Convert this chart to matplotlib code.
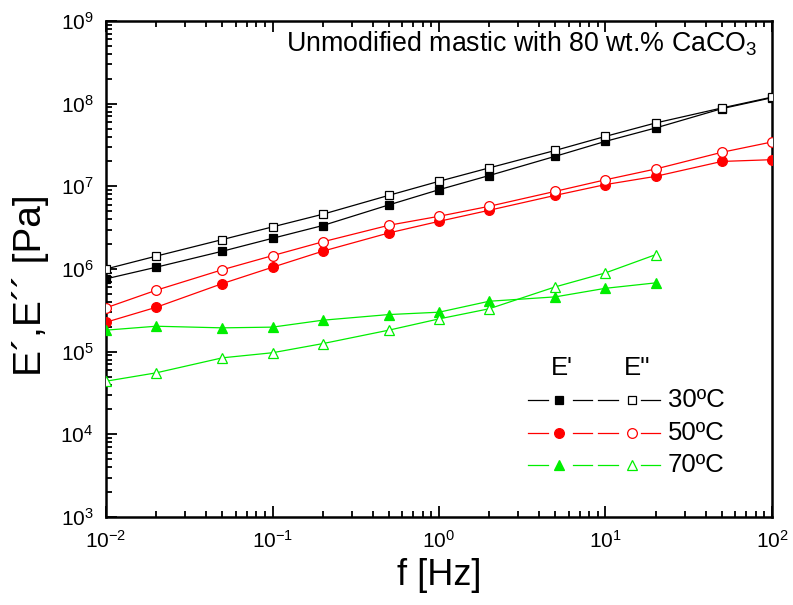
import math
import matplotlib
matplotlib.use("Agg")
import matplotlib.pyplot as plt
from matplotlib.ticker import LogLocator, FuncFormatter, NullFormatter

plt.rcParams['font.family'] = ['Liberation Sans', 'DejaVu Sans']
plt.rcParams['mathtext.fontset'] = 'custom'
plt.rcParams['mathtext.rm'] = 'Liberation Sans'
plt.rcParams['mathtext.it'] = 'Liberation Sans:italic'
plt.rcParams['mathtext.bf'] = 'Liberation Sans:bold'

# Frequency sweep [Hz]
freq = [0.01, 0.02, 0.05, 0.1, 0.2, 0.5, 1, 2, 5, 10, 20, 50, 100]
freq_70 = [0.01, 0.02, 0.05, 0.1, 0.2, 0.5, 1, 2, 5, 10, 20]

# Storage modulus E' [Pa]
e1_30 = [7.6e5, 1.05e6, 1.64e6, 2.35e6, 3.35e6, 5.96e6, 9.1e6, 1.35e7, 2.31e7, 3.5e7, 5.08e7, 8.7e7, 1.18e8]
e1_50 = [2.27e5, 3.44e5, 6.66e5, 1.05e6, 1.64e6, 2.73e6, 3.77e6, 5.13e6, 7.78e6, 1.05e7, 1.32e7, 2.0e7, 2.1e7]
e1_70 = [1.82e5, 2.03e5, 1.94e5, 1.98e5, 2.4e5, 2.81e5, 3.0e5, 4.07e5, 4.6e5, 5.84e5, 6.79e5]

# Loss modulus E'' [Pa]
e2_30 = [1.0e6, 1.43e6, 2.27e6, 3.23e6, 4.59e6, 7.78e6, 1.15e7, 1.67e7, 2.72e7, 4.02e7, 5.84e7, 8.87e7, 1.2e8]
e2_50 = [3.39e5, 5.53e5, 9.8e5, 1.45e6, 2.13e6, 3.38e6, 4.34e6, 5.73e6, 8.7e6, 1.2e7, 1.62e7, 2.58e7, 3.44e7]
e2_70 = [4.39e4, 5.54e4, 8.42e4, 9.7e4, 1.25e5, 1.82e5, 2.49e5, 3.3e5, 6.08e5, 8.97e5, 1.49e6]

temps = ['30ºC', '50ºC', '70ºC']
colors = ['black', '#ff0000', '#00ee00']
markers = ['s', 'o', '^']
msizes = [6.0, 7.0, 7.5]

fig = plt.figure(figsize=(7.93, 6.05), dpi=100)
ax = fig.add_axes([0.1337, 0.1455, 0.8398, 0.8198])

series = [
    (freq, e1_30, e2_30),
    (freq, e1_50, e2_50),
    (freq_70, e1_70, e2_70),
]

for (f, e1, e2), c, m, ms in zip(series, colors, markers, msizes):
    ax.plot(f, e1, color=c, lw=0.9, marker=m, ms=ms, mfc=c, mec=c, mew=0.9, zorder=3)
for (f, e1, e2), c, m, ms in zip(series, colors, markers, msizes):
    ax.plot(f, e2, color=c, lw=0.9, marker=m, ms=ms, mfc='white', mec=c, mew=0.9, zorder=4)

ax.set_xscale('log')
ax.set_yscale('log')
ax.set_xlim(1e-2, 1e2)
ax.set_ylim(1e3, 1e9)


def pow10(v, pos):
    exp = int(round(math.log10(v)))
    return r'$\mathregular{10^{%d}}$' % exp


ax.xaxis.set_major_locator(LogLocator(base=10, numticks=10))
ax.yaxis.set_major_locator(LogLocator(base=10, numticks=10))
ax.xaxis.set_minor_locator(LogLocator(base=10, subs=range(2, 10), numticks=20))
ax.yaxis.set_minor_locator(LogLocator(base=10, subs=range(2, 10), numticks=20))
ax.xaxis.set_major_formatter(FuncFormatter(pow10))
ax.yaxis.set_major_formatter(FuncFormatter(pow10))
ax.xaxis.set_minor_formatter(NullFormatter())
ax.yaxis.set_minor_formatter(NullFormatter())

ax.tick_params(which='both', direction='in', top=True, right=False, width=1.3)
ax.tick_params(which='major', length=8, labelsize=15, pad=9)
ax.tick_params(which='minor', length=4)
for sp in ax.spines.values():
    sp.set_linewidth(1.8)

ax.set_xlabel('f [Hz]', fontsize=26, labelpad=5)
ax.set_ylabel('E´,E´´ [Pa]', fontsize=28)
ax.yaxis.set_label_coords(-0.086, 0.468)

ax.text(0.978, 0.955, r'Unmodified mastic with 80 wt.% CaCO$_\mathregular{3}$',
        transform=ax.transAxes, ha='right', va='center', fontsize=19.3)

# Legend block: filled symbols for E', open symbols for E''
ax.text(0.685, 0.300, "E'", transform=ax.transAxes, ha='center', va='center', fontsize=18.5)
ax.text(0.797, 0.300, "E''", transform=ax.transAxes, ha='center', va='center', fontsize=18.5)
rows_y = [0.236, 0.170, 0.104]
dashes = [(0.634, 0.664), (0.701, 0.730), (0.739, 0.769), (0.803, 0.832)]
for yy, c, m, ms, t in zip(rows_y, colors, markers, msizes, temps):
    for x0, x1 in dashes:
        ax.plot([x0, x1], [yy, yy], color=c, lw=0.9, transform=ax.transAxes, clip_on=False)
    ax.plot([0.680], [yy], marker=m, ms=ms, mfc=c, mec=c, mew=0.9, ls='none',
            transform=ax.transAxes, clip_on=False)
    ax.plot([0.790], [yy], marker=m, ms=ms, mfc='white', mec=c, mew=0.9, ls='none',
            transform=ax.transAxes, clip_on=False)
    ax.text(0.844, yy, t, transform=ax.transAxes, ha='left', va='center', fontsize=18.5)

fig.savefig('out.png', dpi=100)
